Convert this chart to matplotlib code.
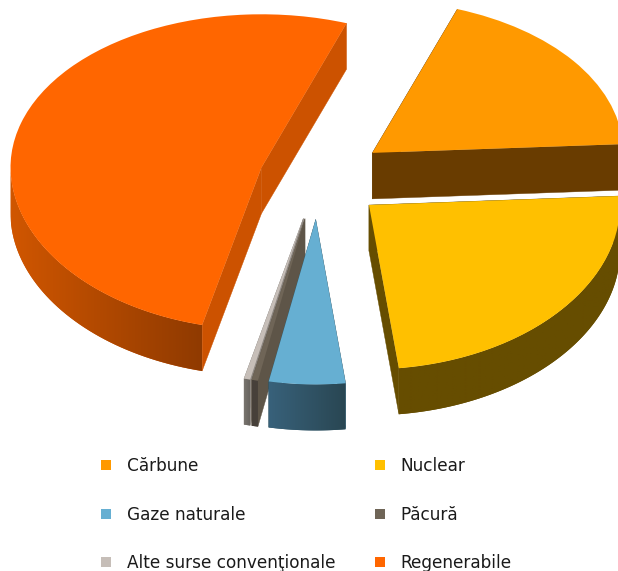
import numpy as np
import matplotlib
matplotlib.use("Agg")
import matplotlib.pyplot as plt
from matplotlib.patches import Patch, Polygon

# Data
labels = ["Cărbune", "Nuclear", "Gaze naturale", "Păcură", "Alte surse convenţionale", "Regenerabile"]
shares = [18.6, 24.0, 4.9, 0.4, 0.4, 51.7]

# Style
top_colors = ["#FF9900", "#FFC000", "#66AFD2", "#6F6557", "#C6BEB8", "#FF6600"]
side_colors = ["#693C00", "#664D00", "#2F5566", "#5E5548", "#8C8680", "#CC5200"]
rim_left = ["#693C00", "#664D00", "#38617A", "#47403A", "#77736D", "#D05600"]
rim_right = ["#693C00", "#664D00", "#294652", "#47403A", "#66625D", "#8F3A00"]
explode = [0.27, 0.265, 0.26, 0.26, 0.26, 0.235]
paint_order = [5, 0, 4, 3, 2, 1]

W, H = 618, 571
RX, RY = 251.0, 156.0
CX, CY = 318.0, 178.0
DEPTH = 46.0 / RY
START = 70.2


def persp(y):
    y = np.asarray(y, dtype=float)
    d = np.where(y < 0, 7.0 * np.abs(y) ** 1.5, 2.5 * y ** 2)
    return y - d / RY


_grid = np.linspace(-4, 3, 4001)


def persp_inv(s):
    return np.interp(s, persp(_grid), _grid)


def lower(y):
    """Data y of the point one wall depth below y on the screen."""
    return persp_inv(persp(y) - DEPTH)


plt.rcParams["font.family"] = "DejaVu Sans"
fig = plt.figure(figsize=(W / 100, H / 100), dpi=100, facecolor="white")
ax = fig.add_axes([0, 0, 1, 1])
wedges, _ = ax.pie(shares, explode=explode, colors=top_colors, startangle=START,
                   counterclock=False, radius=1.0)
ax.set_aspect("auto")
ax.set_yscale("function", functions=(persp, persp_inv))
ax.set_xlim((0 - CX) / RX, (W - CX) / RX)
ax.set_ylim(float(persp_inv((CY - H) / RY)), float(persp_inv(CY / RY)))
ax.set_xticks([])
ax.set_yticks([])
ax.minorticks_off()
ax.set_frame_on(False)
xl, yl = ax.get_xlim(), ax.get_ylim()


def rgb(c):
    return np.array(matplotlib.colors.to_rgb(c))


for rank, i in enumerate(paint_order):
    w = wedges[i]
    base = 10 * (rank + 1)
    w.set_zorder(base + 3)
    w.set_linewidth(0)
    cx, cy = w.center
    r = w.r
    for th in (w.theta1, w.theta2):
        px = cx + r * np.cos(np.radians(th))
        py = cy + r * np.sin(np.radians(th))
        ax.add_patch(Polygon([(cx, cy), (px, py), (px, float(lower(py))), (cx, float(lower(cy)))],
                             closed=True, facecolor=side_colors[i], edgecolor=side_colors[i],
                             linewidth=0.3, zorder=base + 1))
    # outer rim, only the part facing the viewer, shaded left to right
    t = np.linspace(w.theta1, w.theta2, 120)
    t = t[np.sin(np.radians(t)) <= 0.02]
    if len(t) > 1:
        xs = cx + r * np.cos(np.radians(t))
        ys = cy + r * np.sin(np.radians(t))
        ybot = lower(ys)
        verts = np.r_[np.c_[xs, ys], np.c_[xs[::-1], ybot[::-1]]]
        poly = Polygon(verts, closed=True, facecolor=side_colors[i], edgecolor="none",
                       zorder=base + 2)
        ax.add_patch(poly)
        n = 256
        grad = np.linspace(0, 1, n)[None, :, None]
        img = rgb(rim_left[i])[None, None, :] * (1 - grad) + rgb(rim_right[i])[None, None, :] * grad
        im = ax.imshow(img, extent=(xs.min(), xs.max(), ybot.min() - 0.02, ys.max() + 0.02),
                       aspect="auto", zorder=base + 2, interpolation="bilinear", origin="lower")
        im.set_clip_path(poly)
ax.set_aspect("auto")
ax.set_xlim(xl)
ax.set_ylim(yl)

fs = 12.2
order = [0, 2, 4, 1, 3, 5]
handles = [Patch(facecolor=top_colors[i], edgecolor="none", label=labels[i]) for i in order]
fig.legend(handles=handles, loc="upper left",
           bbox_to_anchor=(101 / W, 1 - 457 / H), ncol=2, frameon=False, fontsize=fs,
           handlelength=7.2 / fs, handleheight=0.53, handletextpad=16 * 0.72 / fs,
           labelspacing=30.7 * 0.72 / fs, columnspacing=39 * 0.72 / fs,
           borderpad=0, borderaxespad=0, labelcolor="#1a1a1a")
fig.savefig("out.png", dpi=100, facecolor="white")
